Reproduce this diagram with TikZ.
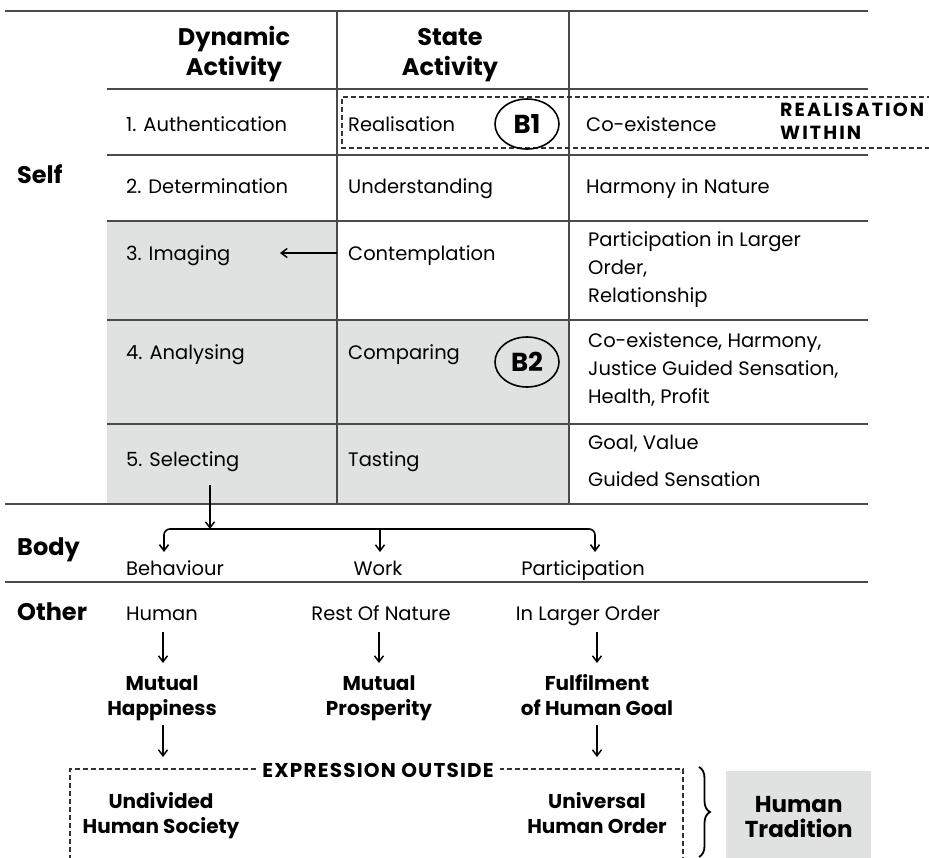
\documentclass[tikz,border=0pt]{standalone}
\usepackage{fontspec}
\setmainfont{Poppins}
\usetikzlibrary{arrows.meta,shapes.geometric,decorations.pathreplacing}
\definecolor{cellgray}{HTML}{E0E1E1}
\definecolor{rulegray}{HTML}{4A4A4A}
\begin{document}
\begin{tikzpicture}[x=1pt,y=-1pt,
  txt/.style={font=\fontsize{19.5}{28}\selectfont, inner sep=0pt, anchor=base west, align=left},
  head/.style={font=\bfseries\fontsize{24}{30}\selectfont, inner sep=0pt, anchor=base, align=center},
  side/.style={font=\bfseries\fontsize{24}{30}\selectfont, inner sep=0pt, anchor=base west},
  item/.style={font=\fontsize{19.5}{28}\selectfont, inner sep=0pt, anchor=base},
  res/.style={font=\bfseries\fontsize{20}{24.5}\selectfont, inner sep=0pt, anchor=base, align=center},
  rule/.style={draw=rulegray, line width=1.5pt},
  dashbox/.style={draw=black!80, line width=1.2pt, dash pattern=on 5pt off 3pt},
  arr/.style={draw=black, line width=1.5pt, -{Straight Barb[length=6pt,width=9pt]}},
  badge/.style={ellipse, draw=black, line width=1.6pt, minimum width=64pt, minimum height=50pt, inner sep=0pt, font=\bfseries\fontsize{26}{26}\selectfont},
]
\useasboundingbox (0,0) rectangle (929,857);

% shaded cells
\fill[cellgray] (107,221) rectangle (337,504);
\fill[cellgray] (337,320) rectangle (569,504);

% table rules
\draw[rule] (5,11) -- (868,11);
\foreach \yy in {89,155,221,320,424}
  \draw[rule] (107,\yy) -- (868,\yy);
\draw[rule] (5,504) -- (868,504);
\draw[rule] (5,582) -- (868,582);
\draw[rule] (337,11) -- (337,504);
\draw[rule] (569,11) -- (569,504);

% dashed frame round the first row
\draw[dashbox] (940,97) -- (342,97) -- (342,148) -- (940,148);

% header (anchor base = baseline of the last line)
\node[head] (dyn) at (234,75) {Dynamic\\Activity};
\node[head] (state) at (450,75) {State\\Activity};

% side labels
\node[side] (self) at (17,183) {Self};
\node[side] (body) at (17,555) {Body};
\node[side] (other) at (17,620) {Other};

% row 1
\node[txt] (a1) at (126,131) {1. Authentication};
\node[txt] (s1) at (348,131) {Realisation};
\node[badge] (b1) at (527,124) {B1};
\node[txt] (c1) at (586,131) {Co-existence};
\node[font=\bfseries\fontsize{19}{23}\selectfont\addfontfeature{LetterSpace=11}, inner sep=0pt, anchor=base west, align=left] (rw) at (780,139) {REALISATION\\WITHIN};

% row 2
\node[txt] (a2) at (126,193) {2. Determination};
\node[txt] (s2) at (348,193) {Understanding};
\node[txt] (c2) at (586,193) {Harmony in Nature};

% row 3
\node[txt] (a3) at (126,260) {3. Imaging};
\node[txt] (s3) at (348,260) {Contemplation};
\node[txt] (c3) at (588,302) {Participation in Larger\\Order,\\Relationship};
\coordinate (imgtip) at (280,253);
\draw[arr] (s3.west |- imgtip) ++(-11,0) -- (imgtip);

% row 4
\node[txt] (a4) at (126,359) {4. Analysing};
\node[txt] (s4) at (348,359) {Comparing};
\node[badge] (b2) at (527,362) {B2};
\node[txt] (c4) at (588,403) {Co-existence, Harmony,\\Justice Guided Sensation,\\Health, Profit};

% row 5
\node[txt] (a5) at (126,466) {5. Selecting};
\node[txt] (s5) at (348,466) {Tasting};
\node[txt] (c5) at (588,486) {Goal, Value\\[9pt]Guided Sensation};

% body
\node[item] (beh) at (175,575) {Behaviour};
\node[item] (work) at (378,575) {Work};
\node[item] (part) at (583,575) {Participation};
\coordinate (split) at (210,529);
\coordinate (bl) at (164,552);
\coordinate (bm) at (380,552);
\coordinate (br) at (595,552);
\draw[arr] (split |- a5.south) ++(0,14) -- (split);
\draw[line width=1.6pt, rounded corners=6pt, {Straight Barb[length=6pt,width=9pt]}-{Straight Barb[length=6pt,width=9pt]}]
  (bl) -- (bl |- split) -- (br |- split) -- (br);
\draw[arr] (bm |- split) -- (bm);

% other
\node[item] (hum) at (162,620) {Human};
\node[item] (ron) at (381,620) {Rest Of Nature};
\node[item] (ilo) at (588,620) {In Larger Order};

\node[res] (mh) at (162,715) {Mutual\\Happiness};
\node[res] (mp) at (379,715) {Mutual\\Prosperity};
\node[res] (fh) at (597,715) {Fulfilment\\of Human Goal};

\coordinate (o1) at (163,632); \coordinate (o1e) at (163,663);
\coordinate (o2) at (379,632); \coordinate (o2e) at (379,663);
\coordinate (o3) at (597,632); \coordinate (o3e) at (597,663);
\coordinate (r1) at (163,725); \coordinate (r1e) at (163,757);
\coordinate (r3) at (597,725); \coordinate (r3e) at (597,757);
\draw[arr] (o1) -- (o1e);
\draw[arr] (o2) -- (o2e);
\draw[arr] (o3) -- (o3e);
\draw[arr] (r1) -- (r1e);
\draw[arr] (r3) -- (r3e);

% outside expression
\draw[dashbox] (70,860) -- (70,769) -- (683,769) -- (683,860);
\node[font=\bfseries\fontsize{20}{20}\selectfont\addfontfeature{LetterSpace=6}, fill=white, inner xsep=6pt, inner ysep=1pt] (expr) at (378,770) {EXPRESSION OUTSIDE};
\node[res] (uhs) at (161,833) {Undivided\\Human Society};
\node[res] (uho) at (597,833) {Universal\\Human Order};

\draw[decorate, decoration={brace, amplitude=11pt}, line width=1.8pt] (699,767) -- (699,857);
\node[fill=cellgray, minimum width=145pt, minimum height=92pt, anchor=north west, align=center, inner sep=0pt,
      font=\bfseries\fontsize{23}{25}\selectfont] (trad) at (726,771) {Human\\Tradition};
\end{tikzpicture}
\end{document}
